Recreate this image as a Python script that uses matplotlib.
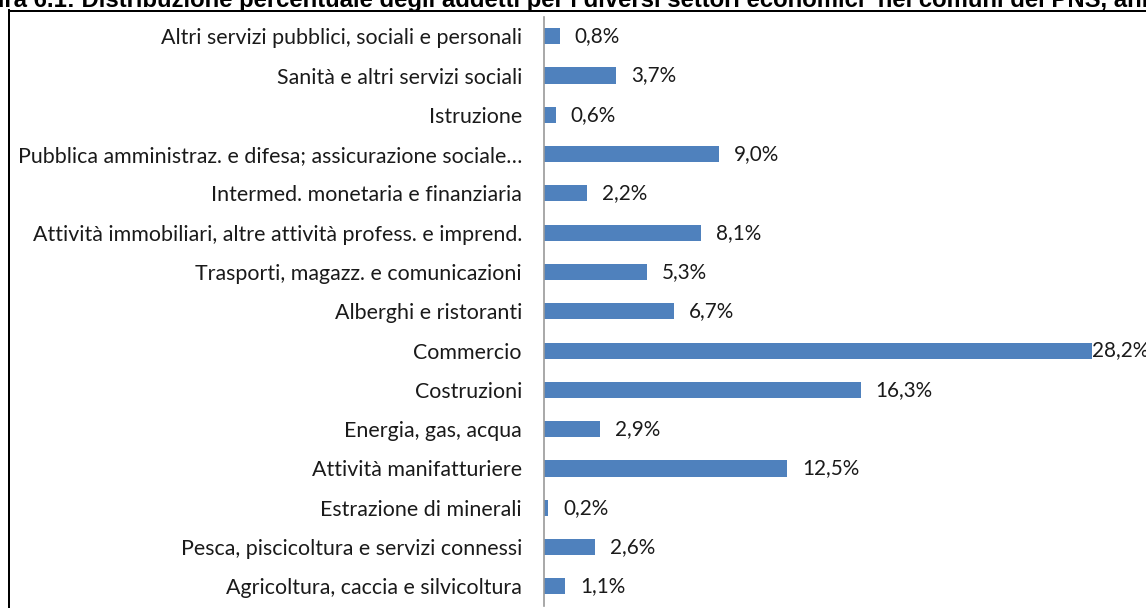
import matplotlib
matplotlib.use("Agg")
import matplotlib.pyplot as plt
from matplotlib.lines import Line2D

categories = [
    "Agricoltura, caccia e silvicoltura",
    "Pesca, piscicoltura e servizi connessi",
    "Estrazione di minerali",
    "Attività manifatturiere",
    "Energia, gas, acqua",
    "Costruzioni",
    "Commercio",
    "Alberghi e ristoranti",
    "Trasporti, magazz. e comunicazioni",
    "Attività immobiliari, altre attività profess. e imprend.",
    "Intermed. monetaria e finanziaria",
    "Pubblica amministraz. e difesa; assicurazione sociale…",
    "Istruzione",
    "Sanità e altri servizi sociali",
    "Altri servizi pubblici, sociali e personali",
]
values = [1.1, 2.6, 0.2, 12.5, 2.9, 16.3, 28.2, 6.7, 5.3, 8.1, 2.2, 9.0, 0.6, 3.7, 0.8]
title_prefix = "Figura 6.1: "
title_main = ("Distribuzione percentuale degli addetti per i diversi settori "
              "economici  nei comuni del PNS, anno 2001")

W, H = 1146, 608
fig = plt.figure(figsize=(W / 100, H / 100), dpi=100)
fig.patch.set_facecolor("white")
renderer = fig.canvas.get_renderer()

def text_width(s, **kw):
    t = fig.text(0, 0, s, **kw)
    w = t.get_window_extent(renderer).width
    t.remove()
    return w

font = "Lato"
# size the labels so their widths match the reference
lab_fs = 12.0 * 359 / text_width("Altri servizi pubblici, sociali e personali",
                                 fontfamily=font, fontsize=12.0)
val_fs = 12.0 * 57 / text_width("16,3%", fontfamily=font, fontsize=12.0)

x0 = 544
ppu = 19.43
xmax = 30
top, bottom = 16.6, 606
ax = fig.add_axes([x0 / W, 1 - bottom / H, xmax * ppu / W, (bottom - top) / H])

ypos = list(range(len(categories)))
ax.barh(ypos, values, height=0.41, color="#4F81BD", zorder=2)
ax.set_xlim(0, xmax)
ax.set_ylim(-0.5, len(categories) - 0.5)
ax.set_yticks(ypos)
ax.set_yticklabels(categories, fontfamily=font, fontsize=lab_fs, color="#1a1a1a")
ax.tick_params(axis="y", length=0, pad=22 * 72 / 100)
ax.set_xticks([])
for s in ["top", "right", "bottom"]:
    ax.spines[s].set_visible(False)
ax.spines["left"].set_color("#9a9a9a")
ax.spines["left"].set_linewidth(1.2)
ax.patch.set_alpha(0)

vmax = max(values)
for y, v in zip(ypos, values):
    off = 0 if v == vmax else 15
    ax.annotate(f"{v:.1f}%".replace(".", ","), xy=(v, y), xytext=(off, 0),
                textcoords="offset pixels", va="center", ha="left",
                fontfamily=font, fontsize=val_fs, color="#1a1a1a")

# cropped title (only lower part visible)
tkw = dict(fontfamily="Liberation Sans", fontweight="bold")
seg = "Distribuzione percentuale degli addetti per i diversi settori economici  nei comuni del PNS, an"
t_fs = 12.0 * 1058 / text_width(seg, fontsize=12.0, **tkw)
pre_w = text_width(title_prefix, fontsize=t_fs, **tkw)
fig.text((82 - pre_w) / W, 1 - 7.3 / H, title_prefix + title_main, fontsize=t_fs,
         ha="left", va="baseline", color="black", **tkw)

# frame lines
lw = 2 * 72 / 100
fig.add_artist(Line2D([9 / W, 1.0], [1 - 11 / H, 1 - 11 / H],
                      transform=fig.transFigure, color="black", linewidth=lw))
fig.add_artist(Line2D([9 / W, 9 / W], [1 - 10 / H, 0],
                      transform=fig.transFigure, color="black", linewidth=lw))

fig.savefig("out.png", dpi=100)
